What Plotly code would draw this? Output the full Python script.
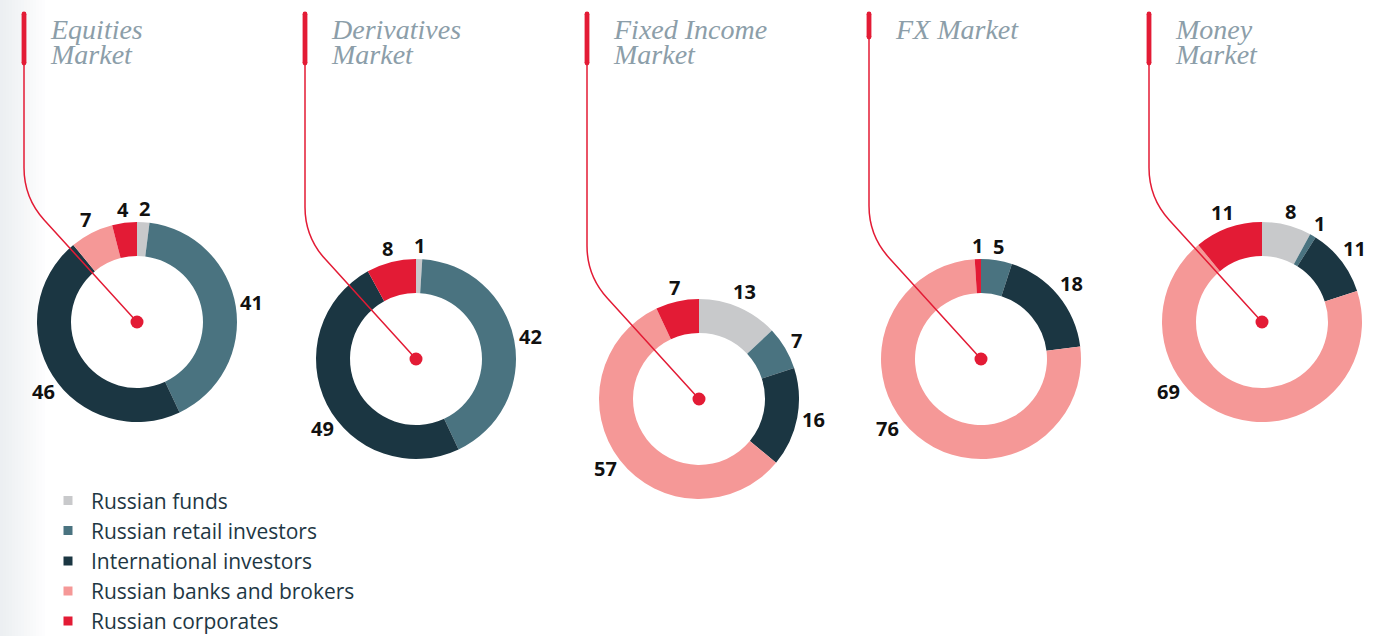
import math
import plotly.graph_objects as go

# ---------------- data ----------------
categories = ["Russian funds", "Russian retail investors", "International investors",
              "Russian banks and brokers", "Russian corporates"]
market_titles = [["Equities", "Market"], ["Derivatives", "Market"], ["Fixed Income", "Market"],
                 ["FX Market"], ["Money", "Market"]]
equities = [2, 41, 46, 7, 4]
derivatives = [1, 42, 49, 0, 8]
fixed_income = [13, 7, 16, 57, 7]
fx_market = [0, 5, 18, 76, 1]
money_market = [8, 1, 11, 69, 11]
series = [equities, derivatives, fixed_income, fx_market, money_market]

# ---------------- style / layout ----------------
colors = ["#c8c9cb", "#4a7380", "#1b3642", "#f59897", "#e31b35"]
RED = "#e31b35"
W, H = 1388, 636
R = 100
HOLE = 0.66
centers = [(137, 322), (416, 359), (699, 399), (981, 359), (1262, 322)]
bar_x = [24, 305, 587, 869, 1149]
BIG_LABEL_ANGLE = 233  # degrees, where large lower-left slices carry their label

fig = go.Figure()
shapes = []
annotations = []

# subtle grey fade on the left edge
n_strip = 16
for i in range(n_strip):
    t = i / (n_strip - 1)
    c = int(236 + (255 - 236) * t)
    c2 = int(239 + (255 - 239) * t)
    c3 = int(242 + (255 - 242) * t)
    shapes.append(dict(type="rect", xref="x", yref="y", x0=i * 3, x1=i * 3 + 3, y0=0, y1=H,
                       fillcolor=f"rgb({c},{c2},{c3})", line=dict(width=0), layer="below"))

for k, (vals, (cx, cy), bx, tlines) in enumerate(zip(series, centers, bar_x, market_titles)):
    fig.add_trace(go.Pie(
        labels=categories, values=vals, hole=HOLE, sort=False, direction="clockwise",
        rotation=0, marker=dict(colors=colors, line=dict(width=0)),
        textinfo="none", showlegend=False, hoverinfo="label+value",
        domain=dict(x=[(cx - R) / W, (cx + R) / W], y=[1 - (cy + R) / H, 1 - (cy - R) / H]),
    ))

    # value labels
    total = sum(vals)
    cum = 0
    for v in vals:
        if v > 0:
            a0 = cum / total * 360
            a1 = (cum + v) / total * 360
            ang = (a0 + a1) / 2
            if v > 40 and a0 <= BIG_LABEL_ANGLE <= a1:
                ang = BIG_LABEL_ANGLE
            mid = math.radians(ang)
            txt = str(v)
            r = 104 + len(txt) * 5.5 * abs(math.sin(mid)) + 8 * abs(math.cos(mid))
            annotations.append(dict(
                x=cx + r * math.sin(mid), y=cy - r * math.cos(mid) - 1, xref="x", yref="y",
                text=f"<b>{txt}</b>", showarrow=False, xanchor="center", yanchor="middle",
                font=dict(family="Open Sans", size=20, color="#111111")))
        cum += v

    # titles
    for j, line in enumerate(tlines):
        annotations.append(dict(
            x=bx + 24, y=29 + 25 * j, xref="x", yref="y", text=f"<i>{line}</i>",
            showarrow=False, xanchor="left", yanchor="middle",
            font=dict(family="Liberation Serif", size=28, color="#8c9ea9")))

    # red title bar
    bar_end = 65 if len(tlines) > 1 else 39
    shapes.append(dict(type="rect", xref="x", yref="y", x0=bx - 2.4, x1=bx + 2.4, y0=14, y1=bar_end - 2,
                       fillcolor=RED, line=dict(width=0), layer="above"))
    for yy in (14, bar_end - 2):
        shapes.append(dict(type="circle", xref="x", yref="y", x0=bx - 2.4, x1=bx + 2.4,
                           y0=yy - 2.4, y1=yy + 2.4, fillcolor=RED, line=dict(width=0), layer="above"))

    # connector line: vertical, rounded bend, diagonal to the centre
    corner_y = cy - 1.1 * (cx - bx)
    d = 30
    ux, uy = 0.673, 0.740
    path = (f"M {bx},{bar_end} L {bx},{corner_y - d} Q {bx},{corner_y} "
            f"{bx + d * ux},{corner_y + d * uy} L {cx},{cy}")
    shapes.append(dict(type="path", xref="x", yref="y", path=path,
                       line=dict(color=RED, width=1.5), layer="above"))
    # centre dot
    shapes.append(dict(type="circle", xref="x", yref="y", x0=cx - 6.5, x1=cx + 6.5,
                       y0=cy - 6.5, y1=cy + 6.5, fillcolor=RED, line=dict(width=0), layer="above"))

# ---------------- legend (manual) ----------------
leg_y = [500.5, 530.5, 561, 591, 621]
fig.add_trace(go.Scatter(
    x=[68] * len(categories), y=leg_y, mode="markers",
    marker=dict(symbol="square", size=9, color=colors, line=dict(width=0)),
    showlegend=False, hoverinfo="skip"))
for name, yy in zip(categories, leg_y):
    annotations.append(dict(x=89, y=yy, xref="x", yref="y", text=name, showarrow=False,
                            xanchor="left", yanchor="middle",
                            font=dict(family="Open Sans", size=21, color="#1e3744")))

fig.update_layout(
    width=W, height=H, margin=dict(l=0, r=0, t=0, b=0, pad=0),
    paper_bgcolor="white", plot_bgcolor="rgba(0,0,0,0)",
    xaxis=dict(range=[0, W], visible=False, fixedrange=True),
    yaxis=dict(range=[H, 0], visible=False, fixedrange=True),
    shapes=shapes, annotations=annotations,
)

fig.write_html("out.html", config={"displayModeBar": False},
               post_script="document.body.style.margin='0';document.body.style.overflow='hidden';")
